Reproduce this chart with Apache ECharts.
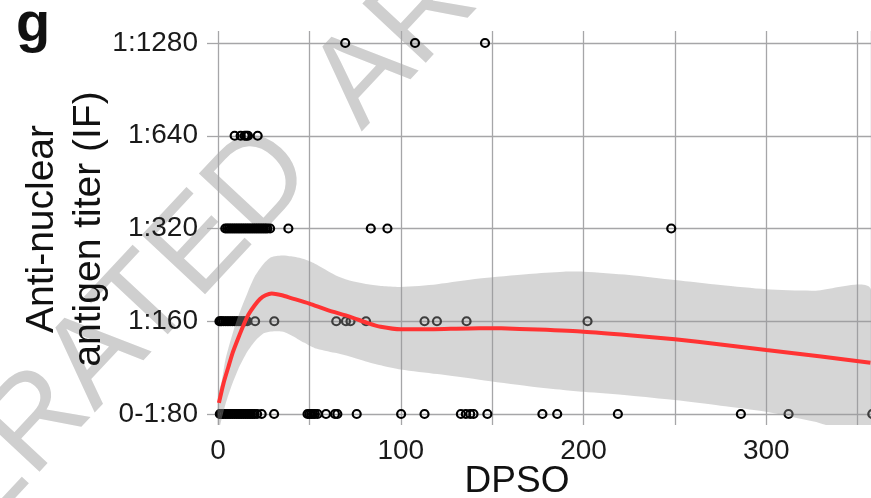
<!DOCTYPE html>
<html>
<head>
<meta charset="utf-8">
<script src="https://cdn.jsdelivr.net/npm/echarts@6/dist/echarts.min.js"></script>
<style>
html,body{margin:0;padding:0;background:#fff;}
#chart{width:871px;height:498px;}
</style>
</head>
<body>
<div id="chart"></div>
<script>
// ---------- data ----------
const yLabels = ['0-1:80', '1:160', '1:320', '1:640', '1:1280'];
const xTickLabels = [0, 100, 200, 300];

// DPSO values of subjects at each titer level
const titer80 = [1, 1.5, 2, 3, 4, 5, 6, 7, 8, 9, 10, 11, 12, 13, 14, 15, 16, 17, 18, 19, 20, 21.4, 23.9, 30.7,
  49, 50, 51, 52, 53, 54.5, 59.1, 64, 65.3, 75.9, 100.2, 113, 132.9, 135.6, 138, 139.8, 147.4,
  177.5, 185.6, 218.8, 286.1, 312.2, 358];
const titer160 = [0.8, 1.5, 2, 3, 4, 5, 6, 7, 8, 9, 10, 11, 12, 13, 14, 15, 16, 20.3, 30.8,
  64.7, 70, 72.5, 81, 113, 119.8, 136, 202.2];
const titer320 = [4, 5, 6, 7, 8, 9, 10, 11, 12, 13, 14, 15, 16, 17, 18, 19, 20, 21, 22, 23, 24, 25, 26, 27, 28.5,
  38.5, 83.6, 92.7, 248];
const titer640 = [9.1, 12.4, 14.6, 15.5, 16.4, 21.7];
const titer1280 = [69.6, 107.8, 146.1];

// smoothed fit (red) and its confidence band
const fitX = [0.5, 3, 5.7, 8, 11.1, 14, 16.6, 20, 23, 26, 29.4, 35, 40, 50, 60, 72, 82, 89, 100, 118, 143, 155, 175, 200, 225, 250, 275, 300, 330, 357];
const fitY = [0.12, 0.33, 0.51, 0.66, 0.82, 0.96, 1.07, 1.17, 1.24, 1.28, 1.30, 1.28, 1.25, 1.19, 1.12, 1.05, 0.98, 0.94, 0.913, 0.915, 0.925, 0.924, 0.91, 0.888, 0.85, 0.806, 0.75, 0.69, 0.62, 0.553];
const bandX = [0, 2, 4, 7, 11, 16, 20, 25, 29, 35, 40, 47, 53, 64, 72, 82, 90, 100, 120, 143, 170, 189, 200, 225, 250, 275, 300, 326, 357];
const bandUpper = [0.2, 0.35, 0.58, 0.8, 1.05, 1.3, 1.48, 1.62, 1.69, 1.71, 1.70, 1.67, 1.62, 1.50, 1.44, 1.40, 1.38, 1.37, 1.40, 1.46, 1.51, 1.535, 1.535, 1.50, 1.445, 1.39, 1.345, 1.33, 1.355];
const bandLower = [-0.2, -0.05, 0.1, 0.28, 0.48, 0.67, 0.78, 0.87, 0.89, 0.89, 0.85, 0.77, 0.71, 0.66, 0.62, 0.56, 0.52, 0.48, 0.43, 0.37, 0.30, 0.26, 0.24, 0.2, 0.15, 0.09, 0.025, -0.08, -0.2];

// ---------- layout ----------
const FONT = '"Liberation Sans", Arial, Helvetica, sans-serif';
const GRID = '#a6a6a8';
const L = 218, R = 871, T = 43, B = 414, W = 871, H = 498;
const EXT_L = 11, EXT_T = 12, EXT_B = 11;
const X2_MAX = 357.3;
const pxPerX = (R - L) / X2_MAX;
const pxPerY = (B - T) / 4;
const X1_MIN = -EXT_L / pxPerX, X1_MAX = X2_MAX;
const Y1_MIN = -EXT_B / pxPerY, Y1_MAX = 4 + EXT_T / pxPerY;
const WM_ROT = 47 * Math.PI / 180;

const levels = [titer80, titer160, titer320, titer640, titer1280];
const scatterData = [];
levels.forEach((arr, lv) => arr.forEach(x => scatterData.push([x, lv])));

const chart = echarts.init(document.getElementById('chart'), null, {renderer: 'canvas'});
chart.setOption({
  backgroundColor: '#ffffff',
  animation: false,
  grid: [
    {left: L - EXT_L, right: 0, top: T - EXT_T, bottom: H - B - EXT_B, outerBoundsMode: 'none', containLabel: false},
    {left: L, right: W - R, top: T, bottom: H - B, outerBoundsMode: 'none', containLabel: false}
  ],
  xAxis: [
    {gridIndex: 0, type: 'value', min: X1_MIN, max: X1_MAX, show: false},
    {gridIndex: 1, type: 'value', min: 0, max: X2_MAX, interval: 50, position: 'bottom',
      axisLine: {show: false},
      axisTick: {show: true, length: EXT_B, lineStyle: {color: GRID, width: 1.3}},
      splitLine: {show: true, lineStyle: {color: GRID, width: 1.3}},
      axisLabel: {formatter: v => xTickLabels.includes(v) ? String(v) : '', fontSize: 28, color: '#1a1a1a',
        fontFamily: FONT, margin: 23, showMaxLabel: false, hideOverlap: false}},
    {gridIndex: 1, type: 'value', min: 0, max: X2_MAX, interval: 50, position: 'top',
      axisLine: {show: false},
      axisTick: {show: true, length: EXT_T, lineStyle: {color: GRID, width: 1.3}},
      splitLine: {show: false}, axisLabel: {show: false}}
  ],
  yAxis: [
    {gridIndex: 0, type: 'value', min: Y1_MIN, max: Y1_MAX, show: false},
    {gridIndex: 1, type: 'value', min: 0, max: 4, interval: 1,
      axisLine: {show: false},
      axisTick: {show: true, length: EXT_L, lineStyle: {color: GRID, width: 1.3}},
      splitLine: {show: true, lineStyle: {color: GRID, width: 1.3}},
      axisLabel: {formatter: v => yLabels[v] !== undefined ? yLabels[v] : '', fontSize: 28, color: '#1a1a1a',
        fontFamily: FONT, margin: 20, hideOverlap: false}}
  ],
  graphic: [
    {type: 'text', x: 292, y: 150, rotation: WM_ROT, z: -10, silent: true,
      style: {text: 'ACCELERATED', fill: '#cfcfcf', font: '126px ' + FONT,
        textAlign: 'right', textVerticalAlign: 'middle'}},
    {type: 'text', x: 336, y: 108, rotation: WM_ROT, z: -10, silent: true,
      style: {text: 'ARTICLE PREVIEW', fill: '#cfcfcf', font: '126px ' + FONT,
        textAlign: 'left', textVerticalAlign: 'middle'}},
    {type: 'text', x: 66, y: 229, rotation: Math.PI / 2, z: 10,
      style: {text: 'Anti-nuclear\nantigen titer (IF)', fill: '#111', font: '39px ' + FONT,
        textAlign: 'center', textVerticalAlign: 'middle', lineHeight: 47}},
    {type: 'text', x: 517, y: 482, z: 10,
      style: {text: 'DPSO', fill: '#111', font: '37px ' + FONT, textAlign: 'center', textVerticalAlign: 'middle'}},
    {type: 'text', x: 16, y: 26, z: 10,
      style: {text: 'g', fill: '#111', font: 'bold 56px ' + FONT, textAlign: 'left', textVerticalAlign: 'middle'}}
  ],
  series: [
    {type: 'scatter', xAxisIndex: 0, yAxisIndex: 0, data: scatterData, symbol: 'circle', symbolSize: 8,
      itemStyle: {color: 'rgba(0,0,0,0)', borderColor: '#000', borderWidth: 2.2, opacity: 1}, z: 2, clip: false},
    {type: 'custom', xAxisIndex: 0, yAxisIndex: 0, data: [[bandX[0], bandLower[0]]], clip: true, z: 3, silent: true,
      renderItem: function (params, api) {
        const pts = [];
        for (let i = 0; i < bandX.length; i++) pts.push(api.coord([bandX[i], bandUpper[i]]));
        for (let i = bandX.length - 1; i >= 0; i--) pts.push(api.coord([bandX[i], bandLower[i]]));
        return {type: 'polygon', shape: {points: pts, smooth: 0.25}, style: {fill: 'rgba(153,153,153,0.4)'}};
      }},
    {type: 'line', xAxisIndex: 0, yAxisIndex: 0, data: fitX.map((x, i) => [x, fitY[i]]), showSymbol: false,
      smooth: 0.2, clip: true, z: 4, lineStyle: {color: '#ff3333', width: 4}}
  ]
});
</script>
</body>
</html>
